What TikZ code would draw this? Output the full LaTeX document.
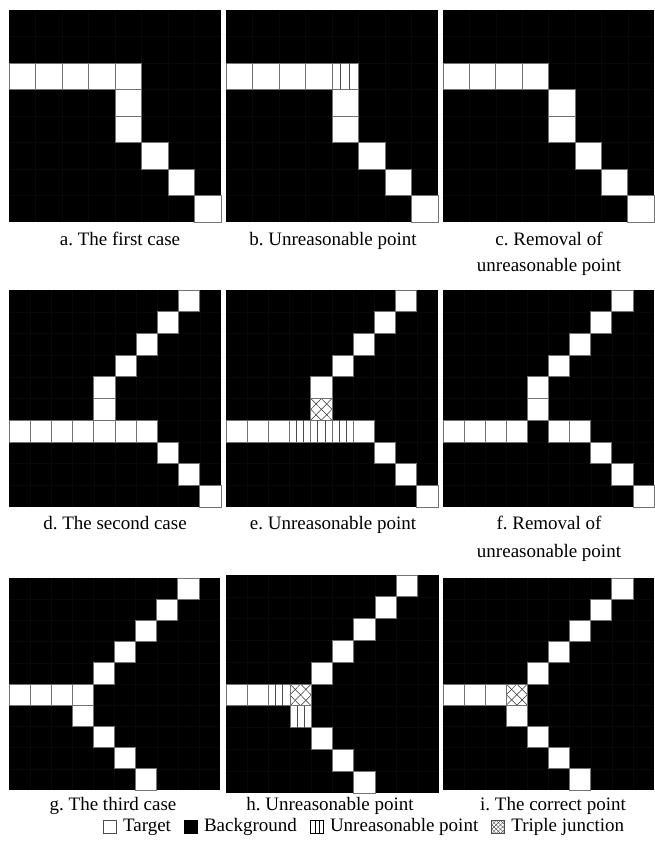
\documentclass[tikz,border=0pt]{standalone}
\usepackage{fontspec}
\setmainfont{Liberation Serif}
\usetikzlibrary{positioning}
\frenchspacing
\tikzset{
  tgt/.style={fill=white, draw=black!55, line width=0.8pt},
  tgtframe/.style={draw=black!55, line width=0.8pt},
  uline/.style={draw=black!70, line width=0.8pt},
  hatch/.style={draw=black!80, line width=0.5pt},
  faint/.style={draw=black!97!white, line width=0.4pt},
  captxt/.style={font=\fontsize{19}{22}\selectfont, inner sep=0pt, text height=13pt, text depth=4pt, anchor=center},
  legicon/.style={minimum size=13pt, inner sep=0pt, draw=black, line width=0.7pt},
}
\newcommand{\PanelBegin}[6]{\begin{scope}[shift={(#1pt,-#2pt)},x=#3pt,y=-#4pt]
  \fill[black] (0,0) rectangle (#5,#5);
  \foreach \i in {1,...,#6}{\draw[faint] (\i,0) -- (\i,#5) (0,\i) -- (#5,\i);}}
\newcommand{\Tc}[2]{\draw[tgt] (#1,#2) rectangle ++(1,1);}
\newcommand{\Uc}[2]{\draw[tgt] (#1,#2) rectangle ++(1,1);
  \draw[uline] (#1+1/3,#2) -- ++(0,1) (#1+2/3,#2) -- ++(0,1);}
\newcommand{\Jc}[2]{\fill[white] (#1,#2) rectangle ++(1,1);
  \begin{scope}\clip (#1,#2) rectangle ++(1,1);
  \foreach \k in {-1,-0.5,0,0.5,1}{\draw[hatch] (#1+\k,#2) -- ++(1,1); \draw[hatch] (#1+\k,#2+1) -- ++(1,-1);}
  \end{scope}
  \draw[tgtframe] (#1,#2) rectangle ++(1,1);}
\newcommand{\TrowR}[3]{\foreach \c in {#1,...,#2}{\Tc{\c}{#3}}}
\begin{document}
\begin{tikzpicture}
\fill[white] (0,0) rectangle (654pt,-850pt);
\useasboundingbox (0,0) rectangle (654pt,-850pt);

% ---------- row 1 ----------
\PanelBegin{9}{10}{26.5}{26.5}{8}{7}
  \TrowR{0}{4}{2} \Tc{4}{3} \Tc{4}{4} \Tc{5}{5} \Tc{6}{6} \Tc{7}{7}
\end{scope}
\PanelBegin{226}{10}{26.5}{26.5}{8}{7}
  \TrowR{0}{3}{2} \Uc{4}{2} \Tc{4}{3} \Tc{4}{4} \Tc{5}{5} \Tc{6}{6} \Tc{7}{7}
\end{scope}
\PanelBegin{443}{10}{26.4}{26.5}{8}{7}
  \TrowR{0}{3}{2} \Tc{4}{3} \Tc{4}{4} \Tc{5}{5} \Tc{6}{6} \Tc{7}{7}
\end{scope}

% ---------- row 2 ----------
\PanelBegin{9}{290}{21.2}{21.7}{10}{9}
  \Tc{8}{0} \Tc{7}{1} \Tc{6}{2} \Tc{5}{3} \Tc{4}{4} \Tc{4}{5}
  \TrowR{0}{6}{6} \Tc{7}{7} \Tc{8}{8} \Tc{9}{9}
\end{scope}
\PanelBegin{226}{290}{21.2}{21.7}{10}{9}
  \Tc{8}{0} \Tc{7}{1} \Tc{6}{2} \Tc{5}{3} \Tc{4}{4} \Jc{4}{5}
  \TrowR{0}{2}{6} \Uc{3}{6} \Uc{4}{6} \Uc{5}{6} \Tc{6}{6}
  \Tc{7}{7} \Tc{8}{8} \Tc{9}{9}
\end{scope}
\PanelBegin{443}{290}{21.1}{21.7}{10}{9}
  \Tc{8}{0} \Tc{7}{1} \Tc{6}{2} \Tc{5}{3} \Tc{4}{4} \Tc{4}{5}
  \TrowR{0}{3}{6} \Tc{5}{6} \Tc{6}{6}
  \Tc{7}{7} \Tc{8}{8} \Tc{9}{9}
\end{scope}

% ---------- row 3 ----------
\PanelBegin{9}{578}{21.1}{21.2}{10}{9}
  \Tc{8}{0} \Tc{7}{1} \Tc{6}{2} \Tc{5}{3} \Tc{4}{4}
  \TrowR{0}{3}{5} \Tc{3}{6} \Tc{4}{7} \Tc{5}{8} \Tc{6}{9}
\end{scope}
\PanelBegin{226}{575}{21.3}{21.8}{10}{9}
  \Tc{8}{0} \Tc{7}{1} \Tc{6}{2} \Tc{5}{3} \Tc{4}{4}
  \Tc{0}{5} \Tc{1}{5} \Uc{2}{5} \Jc{3}{5} \Uc{3}{6}
  \Tc{4}{7} \Tc{5}{8} \Tc{6}{9}
\end{scope}
\PanelBegin{443}{578}{21.1}{21.2}{10}{9}
  \Tc{8}{0} \Tc{7}{1} \Tc{6}{2} \Tc{5}{3} \Tc{4}{4}
  \TrowR{0}{2}{5} \Jc{3}{5} \Tc{3}{6}
  \Tc{4}{7} \Tc{5}{8} \Tc{6}{9}
\end{scope}

% ---------- captions ----------
\node[captxt] (capa) at (120pt,-241pt) {a. The first case};
\node[captxt] (capb) at (333pt,-241pt) {b. Unreasonable point};
\node[captxt] (capc1) at (549pt,-241pt) {c. Removal of};
\node[captxt] (capc2) at (549pt,-267pt) {unreasonable point};
\node[captxt] (capd) at (115pt,-525pt) {d. The second case};
\node[captxt] (cape) at (333pt,-525pt) {e. Unreasonable point};
\node[captxt] (capf1) at (549pt,-525pt) {f. Removal of};
\node[captxt] (capf2) at (549pt,-553pt) {unreasonable point};
\node[captxt] (capg) at (113pt,-806pt) {g. The third case};
\node[captxt] (caph) at (330pt,-806pt) {h. Unreasonable point};
\node[captxt] (capi) at (553pt,-806pt) {i. The correct point};

% ---------- legend ----------
\node[legicon, fill=white, draw=black!70] (li1) at (110pt,-827pt) {};
\node[captxt, anchor=west, right=6pt of li1] (lt1) {Target};
\node[legicon, fill=black, right=13pt of lt1] (li2) {};
\node[captxt, anchor=west, right=6pt of li2] (lt2) {Background};
\node[legicon, fill=white, right=13pt of lt2, path picture={
  \draw[line width=0.6pt] ([xshift=4.33pt]path picture bounding box.south west) -- ++(0,13pt)
                          ([xshift=8.67pt]path picture bounding box.south west) -- ++(0,13pt);}] (li3) {};
\node[captxt, anchor=west, right=6pt of li3] (lt3) {Unreasonable point};
\node[legicon, fill=white, draw=black!70, right=13pt of lt3, path picture={
  \foreach \k in {-13,-8.67,-4.33,0,4.33,8.67,13}{
    \draw[line width=0.4pt] ([xshift=\k pt]path picture bounding box.south west) -- ++(13pt,13pt);
    \draw[line width=0.4pt] ([xshift=\k pt]path picture bounding box.north west) -- ++(13pt,-13pt);}}] (li4) {};
\node[captxt, anchor=west, right=6pt of li4] (lt4) {Triple junction};
\end{tikzpicture}
\end{document}
